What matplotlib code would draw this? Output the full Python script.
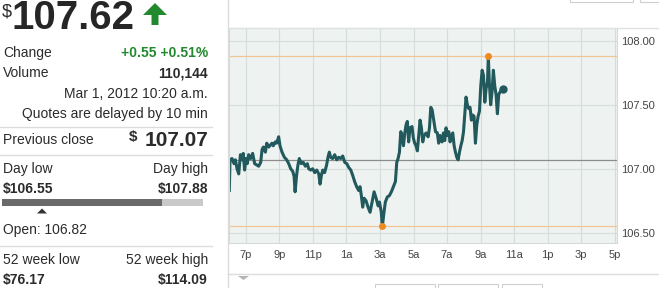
import numpy as np
import matplotlib.pyplot as plt
from matplotlib.patches import Rectangle, Polygon
from matplotlib.lines import Line2D

plt.rcParams['font.family'] = ['Liberation Sans', 'DejaVu Sans']

# intraday trace: hours after 6p, price
hours = [0.02, 0.06, 0.18, 0.30, 0.38, 0.48, 0.58, 0.68, 0.78, 0.85, 0.93, 1.01, 1.09, 1.17, 1.29,
         1.41, 1.53, 1.65, 1.77, 1.89, 1.97, 2.05, 2.17, 2.25, 2.37, 2.44, 2.56, 2.64, 2.76, 2.84,
         2.96, 3.04, 3.16, 3.30, 3.44, 3.56, 3.68, 3.80, 3.88, 3.94, 4.03, 4.11, 4.19, 4.31, 4.43,
         4.55, 4.67, 4.75, 4.87, 4.99, 5.11, 5.23, 5.35, 5.43, 5.51, 5.59, 5.70, 5.82, 5.90, 5.98,
         6.06, 6.18, 6.30, 6.42, 6.54, 6.66, 6.78, 6.90, 7.02, 7.14, 7.26, 7.37, 7.49, 7.61, 7.73,
         7.81, 7.89, 7.97, 8.05, 8.17, 8.29, 8.41, 8.53, 8.65, 8.77, 8.89, 8.97, 9.08, 9.14, 9.24,
         9.32, 9.44, 9.56, 9.68, 9.80, 9.92, 10.00, 10.08, 10.16, 10.24, 10.32, 10.40, 10.48, 10.55,
         10.63, 10.71, 10.79, 10.91, 10.99, 11.07, 11.15, 11.23, 11.31, 11.39, 11.47, 11.55, 11.63,
         11.75, 11.87, 11.95, 12.03, 12.11, 12.19, 12.31, 12.42, 12.50, 12.58, 12.70, 12.78, 12.86,
         12.94, 13.02, 13.10, 13.18, 13.26, 13.34, 13.42, 13.50, 13.58, 13.66, 13.74, 13.82, 13.90,
         13.98, 14.05, 14.13, 14.21, 14.29, 14.37, 14.45, 14.53, 14.61, 14.69, 14.77, 14.85, 14.93,
         15.01, 15.09, 15.17, 15.25, 15.33, 15.41, 15.46, 15.52, 15.60, 15.68, 15.76, 15.84, 15.92,
         16.00, 16.08, 16.16, 16.28, 16.36]
prices = [106.83, 107.07, 107.08, 107.04, 107.07, 107.00, 106.96, 107.11, 107.07, 107.12, 106.99,
          107.08, 107.04, 107.11, 107.08, 107.12, 107.04, 107.03, 107.02, 107.05, 107.15, 107.17,
          107.13, 107.20, 107.17, 107.18, 107.20, 107.18, 107.21, 107.20, 107.25, 107.18, 107.13,
          107.09, 107.07, 107.04, 107.00, 106.98, 106.94, 106.82, 106.95, 107.03, 107.08, 107.04,
          107.05, 107.02, 107.04, 107.00, 106.99, 107.00, 106.97, 106.99, 106.96, 106.88, 106.95,
          106.99, 106.97, 107.03, 107.09, 107.13, 107.09, 107.08, 107.11, 107.07, 107.09, 107.08,
          107.10, 107.05, 107.04, 107.01, 106.99, 106.95, 106.90, 106.86, 106.83, 106.86, 106.79,
          106.70, 106.77, 106.75, 106.70, 106.66, 106.74, 106.82, 106.77, 106.71, 106.74, 106.66,
          106.55, 106.66, 106.74, 106.78, 106.79, 106.82, 106.86, 106.90, 107.05, 107.08, 107.13,
          107.29, 107.26, 107.18, 107.28, 107.34, 107.37, 107.21, 107.32, 107.33, 107.24, 107.20,
          107.18, 107.14, 107.26, 107.38, 107.32, 107.21, 107.26, 107.28, 107.25, 107.32, 107.48,
          107.46, 107.39, 107.29, 107.28, 107.20, 107.26, 107.21, 107.28, 107.22, 107.32, 107.26,
          107.29, 107.21, 107.26, 107.28, 107.18, 107.13, 107.09, 107.07, 107.13, 107.18, 107.22,
          107.29, 107.42, 107.56, 107.50, 107.47, 107.48, 107.38, 107.42, 107.41, 107.20, 107.34,
          107.41, 107.45, 107.65, 107.77, 107.73, 107.52, 107.63, 107.68, 107.88, 107.67, 107.50,
          107.60, 107.77, 107.65, 107.58, 107.43, 107.58, 107.60, 107.62, 107.62]

x_ticks = [1, 3, 5, 7, 9, 11, 13, 15, 17, 19, 21, 23]
x_labels = ['7p', '9p', '11p', '1a', '3a', '5a', '7a', '9a', '11a', '1p', '3p', '5p']
y_ticks = [106.5, 107.0, 107.5, 108.0]

last = '107.62'
change = '+0.55 +0.51%'
volume = '110,144'
stamp = 'Mar 1, 2012 10:20 a.m.'
prev_close = 107.07
day_low, day_high = 106.55, 107.88
open_price = 106.82
wk_low, wk_high = 76.17, 114.09

W, H = 659, 288
fig = plt.figure(figsize=(W / 100, H / 100), dpi=100)
dark = '#2b2b2b'
green = '#23892f'


def put(x, y, s, **kw):
    kw.setdefault('color', dark)
    kw.setdefault('va', 'center')
    kw.setdefault('fontsize', 10)
    fig.text(x / W, 1 - y / H, s, **kw)


def hline(x0, x1, y, color='#dcdcdc', lw=1):
    fig.add_artist(Line2D([x0 / W, x1 / W], [1 - y / H] * 2, color=color, lw=lw,
                          transform=fig.transFigure))


def rect(x, y, w, h, **kw):
    fig.add_artist(Rectangle((x / W, 1 - (y + h) / H), w / W, h / H,
                             transform=fig.transFigure, **kw))


def poly(pts, **kw):
    fig.add_artist(Polygon([(px / W, 1 - py / H) for px, py in pts], closed=True,
                           transform=fig.transFigure, **kw))


# ---- left quote panel
put(2, 12, '$', fontsize=13)
put(12, 18, last, fontsize=29, color='#262626', fontweight='bold')
poly([(155, 3), (167, 15), (158.5, 15), (158.5, 25), (151.5, 25), (151.5, 15), (143, 15)],
     color=green, lw=0)

put(3, 53, 'Change')
put(208, 53, change, ha='right', color=green, fontweight='bold')
put(3, 73, 'Volume')
put(208, 73, volume, ha='right', fontweight='bold')
put(208, 94, stamp, ha='right')
put(208, 114, 'Quotes are delayed by 10 min', ha='right')
hline(0, 212, 127)

put(3, 140, 'Previous close')
put(137, 137, '$', ha='right', fontsize=11, fontweight='bold')
put(208, 141, '%.2f' % prev_close, ha='right', fontsize=15, fontweight='bold')
hline(0, 212, 155)

put(3, 169, 'Day low')
put(208, 169, 'Day high', ha='right')
put(3, 189, '$%.2f' % day_low, fontweight='bold')
put(208, 189, '$%.2f' % day_high, ha='right', fontweight='bold')
rect(2, 199, 160, 7, color='#6a6a6a', lw=0)
rect(162, 199, 41, 7, color='#c9c9c9', lw=0)
poly([(37, 213.5), (47, 213.5), (42, 208.5)], color='#333333', lw=0)
put(3, 230, 'Open: %.2f' % open_price)
hline(0, 212, 246)

put(3, 260, '52 week low')
put(208, 260, '52 week high', ha='right')
put(3, 280, '$%.2f' % wk_low, fontweight='bold')
put(208, 280, '$%.2f' % wk_high, ha='right', fontweight='bold')

# ---- chart frame bits
fig.add_artist(Line2D([228 / W] * 2, [0, 1], color='#dcdcdc', lw=1, transform=fig.transFigure))
hline(228, 659, 28, color='#dde3e0')
hline(228, 659, 274, color='#dcdcdc')
poly([(238, 276), (249, 276), (243.5, 280)], color='#b5b5b5', lw=0)
for bx, bw in [(375, 60), (438, 60), (502, 40)]:
    rect(bx, 284, bw, 6, facecolor='white', edgecolor='#cfcfcf', lw=0.8)
for bx, bw in [(570, 63), (640, 30)]:
    rect(bx, -4, bw, 5.5, facecolor='white', edgecolor='#cfcfcf', lw=0.8)

# ---- price chart
ax = fig.add_axes([229 / W, 1 - 243 / H, (617 - 229) / W, (243 - 28) / H])
ax.set_facecolor('#eef3f1')
ax.set_xlim(0, 23.13)
ax.set_ylim(106.42, 108.10)
for s in ax.spines.values():
    s.set_color('#d3dbd8')
    s.set_linewidth(0.8)
ax.set_xticks(x_ticks)
ax.set_xticklabels(x_labels)
ax.set_yticks(y_ticks)
ax.set_yticklabels(['%.2f' % v for v in y_ticks])
ax.yaxis.tick_right()
narrow = ['Liberation Sans Narrow', 'Liberation Sans', 'DejaVu Sans']
for lab in ax.get_xticklabels() + ax.get_yticklabels():
    lab.set_family(narrow)
ax.tick_params(axis='both', length=0, labelsize=8, labelcolor='#444444')
ax.tick_params(axis='x', pad=5)
ax.tick_params(axis='y', pad=3)
ax.grid(True, color='#d5ddda', lw=0.8)
ax.set_axisbelow(True)

ax.axhline(day_high, color='#f2c595', lw=0.9)
ax.axhline(day_low, color='#f2c595', lw=0.9)
ax.axhline(prev_close, color='#8c8c8c', lw=0.9)
ax.plot(hours, prices, color='#22595c', lw=2.2, solid_joinstyle='round')
hi = int(np.argmax(prices))
lo = int(np.argmin(prices))
ax.plot([hours[hi], hours[lo]], [prices[hi], prices[lo]], 'o', color='#ee8a1f', ms=5, mew=0,
        clip_on=False, zorder=5)
ax.plot(hours[-1], prices[-1], 'o', color='#22595c', ms=6, mew=0, zorder=5)

fig.savefig('out.png', dpi=100)
